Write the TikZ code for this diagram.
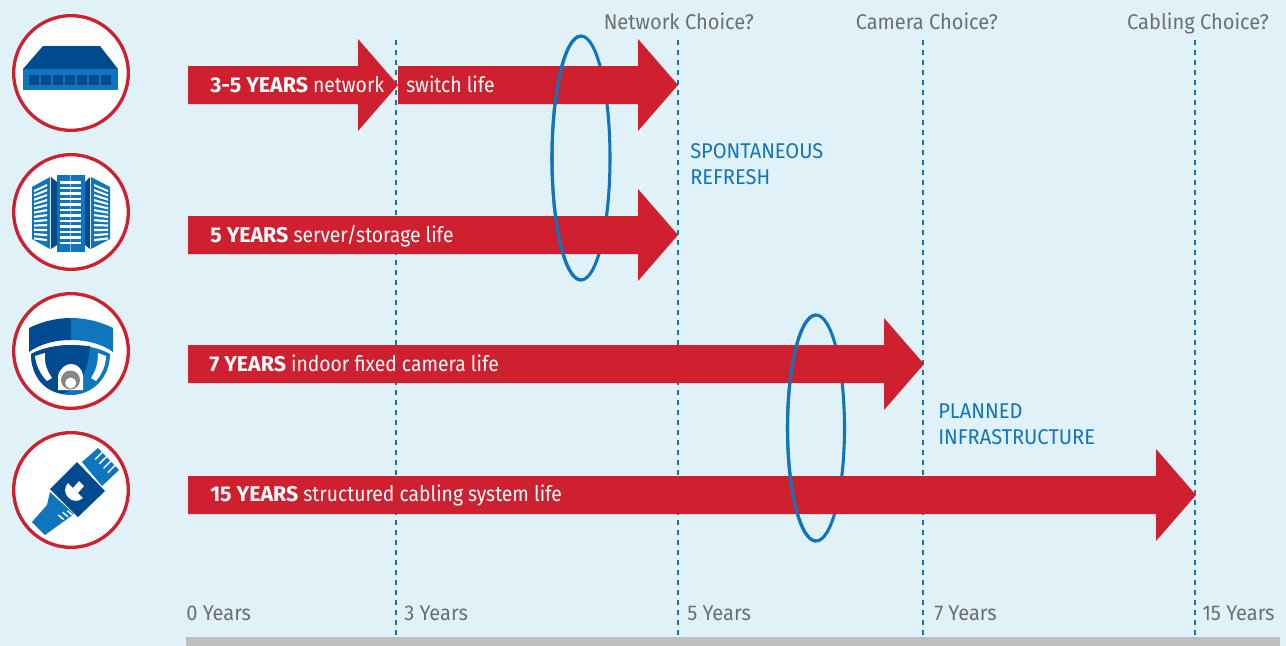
\documentclass[tikz,border=0pt]{standalone}
\usepackage{fontspec}
\setmainfont[FakeStretch=0.94]{Fira Sans}
\newfontfamily\lifefont[FakeStretch=0.905,BoldFeatures={FakeStretch=1.0}]{Fira Sans}
\usetikzlibrary{positioning}
\definecolor{bgblue}{HTML}{E0F2F7}
\definecolor{lifered}{HTML}{CE202F}
\definecolor{midblue}{HTML}{0F75BC}
\definecolor{darkblue}{HTML}{004A8F}
\definecolor{axisgrey}{HTML}{BCBEC0}
\definecolor{labelgrey}{HTML}{6D6E71}
\newcommand{\lifearrow}[3]{% from x, to x, mid y
  \fill[lifered] (#1,#3-19) -- (#2-40,#3-19) -- (#2-40,#3-46) -- (#2,#3)
    -- (#2-40,#3+46) -- (#2-40,#3+19) -- (#1,#3+19) -- cycle;}
\begin{document}
\begin{tikzpicture}[x=0.75pt, y=-0.75pt,
  every node/.append style={inner sep=0pt, font=\fontsize{16}{19.5}\selectfont},
  lifetext/.style={text=white, anchor=base west, font=\lifefont\fontsize{16}{19.5}\selectfont},
  yeartext/.style={text=labelgrey, anchor=base west},
  choicetext/.style={text=labelgrey, anchor=base east},
  bluetext/.style={text=midblue, anchor=west, align=left},
  yearline/.style={midblue, line width=1.1pt, dash pattern=on 4pt off 3.5pt},
  loopline/.style={midblue, line width=2.3pt},
  ring/.style={draw=lifered, fill=white, line width=2.5pt, circle, minimum size=86pt}]
 \useasboundingbox (0,0) rectangle (1286,646);
 \fill[bgblue] (0,0) rectangle (1286,646);
 \fill[axisgrey] (186,637) rectangle (1280,646);
 % year lines
 \foreach \xpos in {396, 678, 923, 1195}
   \draw[yearline] (\xpos,40) -- (\xpos,636);
 % loops go behind the arrows first
 \draw[loopline] (581,158) ellipse (29 and 122);
 \draw[loopline] (816,428) ellipse (28.5 and 113);
 % arrows
 \lifearrow{188}{398}{85}
 \lifearrow{398}{678}{85}
 \lifearrow{188}{678}{235}
 \lifearrow{188}{924}{364}
 \lifearrow{188}{1196}{495}
 % front half of the loops
 \draw[loopline] (581,280) arc (90:270:29 and 122);
 \draw[loopline] (816,541) arc (90:270:28.5 and 113);
 % arrow labels
 \node[lifetext] (net) at (210,92) {\textbf{3-5 YEARS} network};
 \node[lifetext] (sw) at (406,92) {switch life};
 \node[lifetext] (srv) at (210,242) {\textbf{5 YEARS} server/storage life};
 \node[lifetext] (cam) at (209,371) {\textbf{7 YEARS} indoor fixed camera life};
 \node[lifetext] (cab) at (210,501) {\textbf{15 YEARS} structured cabling system life};
 % top labels
 \node[choicetext] (c1) at (754,29) {Network Choice?};
 \node[choicetext] (c2) at (998,29) {Camera Choice?};
 \node[choicetext] (c3) at (1269,29) {Cabling Choice?};
 \node[bluetext] (sp) at (690,164) {SPONTANEOUS\\[0pt]REFRESH};
 \node[bluetext] (pl) at (938,424) {PLANNED\\[0pt]INFRASTRUCTURE};
 % years
 \node[yeartext] (y0) at (186,620) {0 Years};
 \node[yeartext] (y3) at (404,620) {3 Years};
 \node[yeartext] (y5) at (687,620) {5 Years};
 \node[yeartext] (y7) at (934,620) {7 Years};
 \node[yeartext] (y15) at (1202,620) {15 Years};
 % icon rings
 \foreach \ypos/\iname in {73/a, 212/b, 351/c, 490/d}
   \node[ring] (\iname) at (71,\ypos) {};
 % switch
 \fill[darkblue] (23,69) -- (43,46) -- (100,46) -- (118,69) -- cycle;
 \fill[midblue] (23,69) rectangle (118,90);
 \foreach \k in {0,...,6}
   \fill[darkblue] (29+12*\k,75) rectangle ++(10,10);
 % server racks
 \fill[midblue] (57,175) rectangle (85,252);
 \draw[white, line width=.4pt, opacity=.5] (70.5,175) -- (70.5,252);
 \foreach \k in {0,...,11}
   \fill[white] (60,181+5.5*\k) rectangle ++(21,2.6);
 \fill[midblue] (32,187) -- (50,177) -- (50,249) -- (32,239) -- cycle;
 \fill[darkblue] (51,177) -- (57,182) -- (57,245) -- (51,249) -- cycle;
 \fill[midblue] (110,187) -- (91,177) -- (91,249) -- (110,239) -- cycle;
 \fill[darkblue] (90,177) -- (85,182) -- (85,245) -- (90,249) -- cycle;
 \foreach \k in {0,...,11} {
   \fill[white] (34,190+4.3*\k) -- (47,184+5.0*\k) -- ++(0,2.2) -- (34,192.2+4.3*\k) -- cycle;
   \fill[white] (108,190+4.3*\k) -- (94,184+5.0*\k) -- ++(0,2.2) -- (108,192.2+4.3*\k) -- cycle;
 }
 % dome camera
 \fill[darkblue] (29,328) .. controls (45,320) and (60,318) .. (71,318) -- (71,340) .. controls (55,340) and (40,344) .. (29,352) -- cycle;
 \fill[midblue] (113,328) .. controls (97,320) and (82,318) .. (71,318) -- (71,340) .. controls (87,340) and (102,344) .. (113,352) -- cycle;
 \fill[midblue] (31,354) .. controls (42,348) and (58,345) .. (71,345) .. controls (84,345) and (100,348) .. (110,354) .. controls (110,378) and (92,395) .. (71,395) .. controls (50,395) and (31,378) .. (31,354) -- cycle;
 \fill[darkblue] (31,354) .. controls (42,348) and (58,345) .. (71,345) -- (90,346) .. controls (88,370) and (82,385) .. (63,394) .. controls (46,392) and (31,378) .. (31,354) -- cycle;
 \fill[white] (35,356) -- (45,353) .. controls (44,365) and (48,372) .. (52,378) -- (47,381) .. controls (40,374) and (36,365) .. (35,356) -- cycle;
 \fill[white] (106,356) -- (98,353) .. controls (98,365) and (95,372) .. (91,378) -- (96,381) .. controls (102,374) and (106,365) .. (106,356) -- cycle;
 \fill[white] (58,390) -- (58,376) .. controls (60,368) and (66,364) .. (71,364) .. controls (77,364) and (82,368) .. (83,376) -- (83,390) -- cycle;
 \fill[axisgrey!70!black] (70.5,380) circle (9.5);
 \fill[white] (70.7,383) circle (5.5);
 % cable plug
 \fill[midblue] (32,522) -- (47,505) -- (50,492) -- (74,514) -- (45,535) -- cycle;
 \fill[midblue] (82,462) -- (98,448) -- (119,470) -- (102,486) -- cycle;
 \foreach \t in {0.2,0.4,0.6,0.8}
   \draw[white, line width=1.1pt] (98+21*\t,448+22*\t) -- ++(-7,7);
 \foreach \sx/\sy in {58.3/515, 62.7/512.3, 67.3/510.7}
   \draw[white, line width=1.1pt] (\sx,\sy) -- ++(5.3,4.5);
 \fill[darkblue] (50,489) -- (77,462) -- (105,491) -- (78,517) -- cycle;
 \fill[white] (68,483) .. controls (59,493) and (73,507) .. (83,498) -- cycle;
 \fill[white] (73,488) -- (79,481) -- (84,486) -- (78,493) -- cycle;
\end{tikzpicture}
\end{document}
